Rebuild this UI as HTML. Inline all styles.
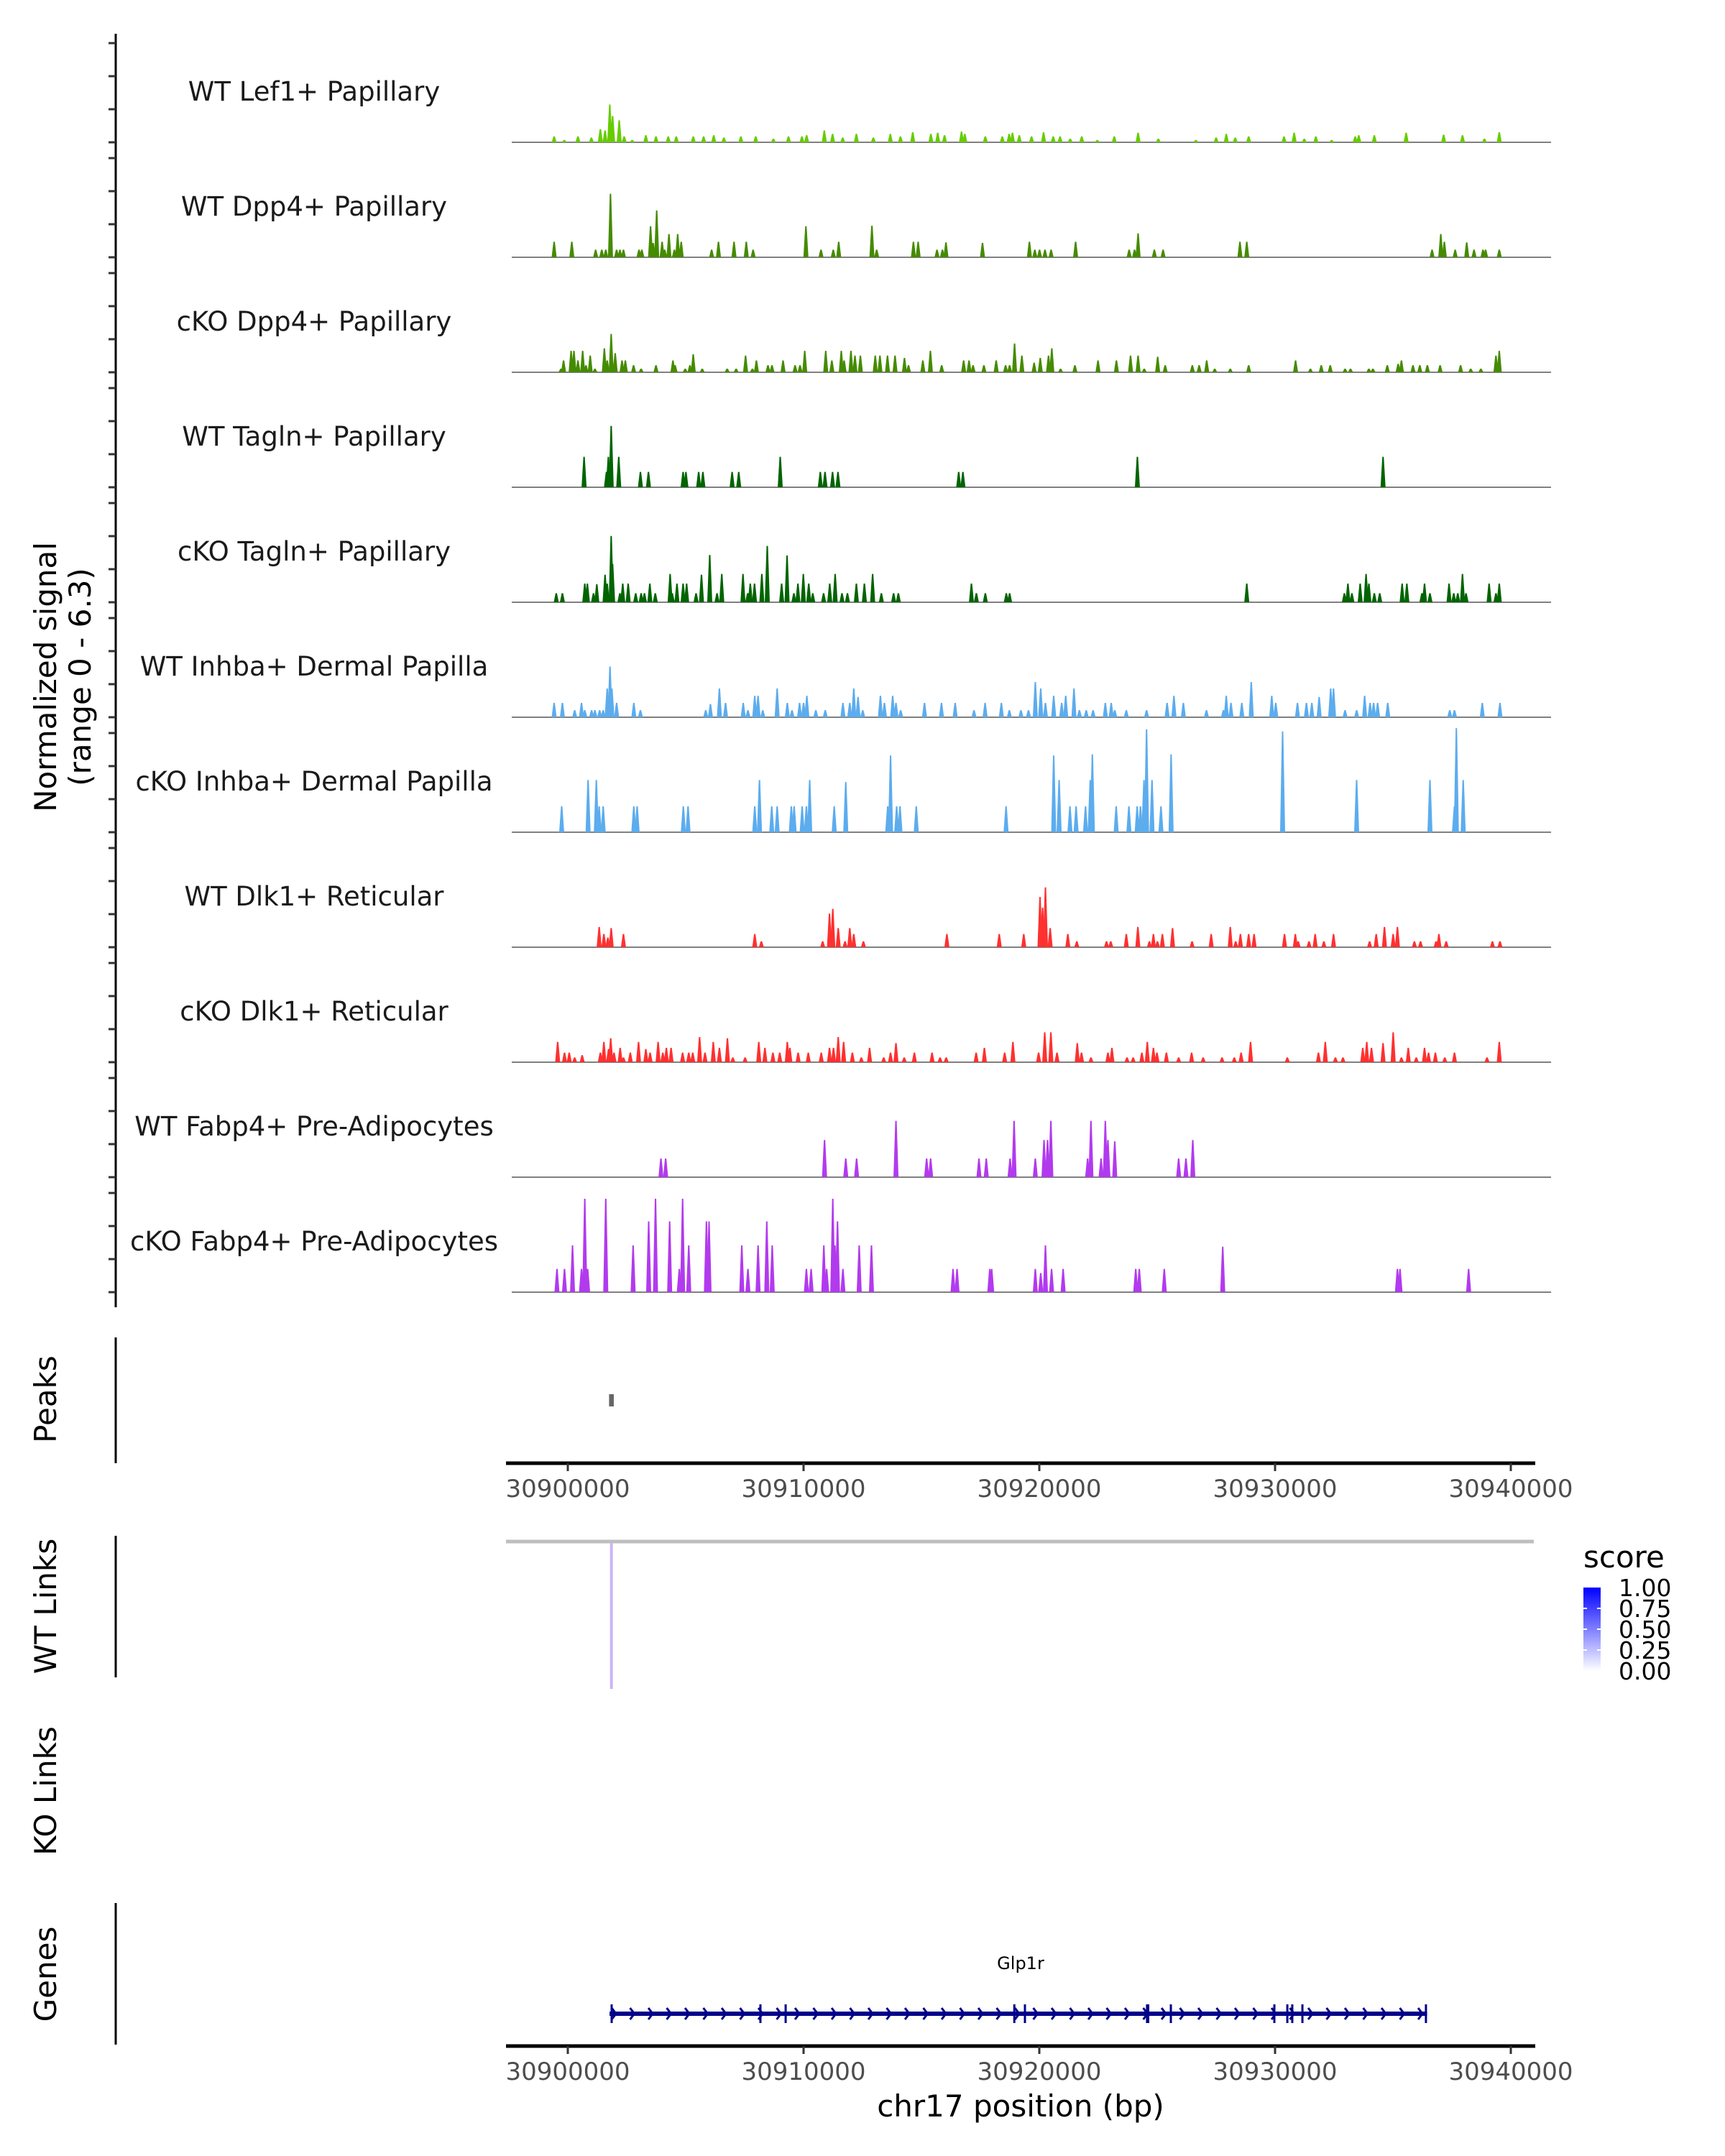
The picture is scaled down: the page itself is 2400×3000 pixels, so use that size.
<!DOCTYPE html>
<html><head><meta charset="utf-8"><style>
html,body{margin:0;padding:0;background:#fff;}
svg{display:block;font-family:"DejaVu Sans","Liberation Sans",sans-serif;}
</style></head><body>
<svg id="chart" width="2400" height="3000" viewBox="0 0 2400 3000" xmlns="http://www.w3.org/2000/svg">
<rect width="2400" height="3000" fill="#fff"/>
<g id="tracks"></g>
<line x1="161" y1="47" x2="161" y2="1819" stroke="#000" stroke-width="3"/>
<g id="yticks"></g>
<text transform="translate(78,942) rotate(-90)" text-anchor="middle" font-size="42" fill="#000">Normalized signal</text>
<text transform="translate(126,942) rotate(-90)" text-anchor="middle" font-size="42" fill="#000">(range 0 - 6.3)</text>

<line x1="161" y1="1861" x2="161" y2="2036" stroke="#000" stroke-width="3"/>
<text transform="translate(78,1947) rotate(-90)" text-anchor="middle" font-size="42" fill="#000">Peaks</text>
<g id="peaks"></g>
<g id="axis1"></g>

<line x1="161" y1="2137" x2="161" y2="2334" stroke="#000" stroke-width="3"/>
<text transform="translate(78,2235) rotate(-90)" text-anchor="middle" font-size="42" fill="#000">WT Links</text>
<line x1="704" y1="2145" x2="2134" y2="2145" stroke="#bebebe" stroke-width="5"/>
<g id="links"></g>
<text transform="translate(78,2492) rotate(-90)" text-anchor="middle" font-size="42" fill="#000">KO Links</text>

<g>
<defs><linearGradient id="sg" x1="0" y1="1" x2="0" y2="0"><stop offset="0" stop-color="#ffffff"/><stop offset="1" stop-color="#0000ff"/></linearGradient></defs>
<text x="2203" y="2181" font-size="42" fill="#000">score</text>
<rect x="2203" y="2209" width="24" height="116" fill="url(#sg)"/>
<g stroke="#fff" stroke-width="2"><line x1="2203" y1="2238" x2="2208" y2="2238"/><line x1="2222" y1="2238" x2="2227" y2="2238"/><line x1="2203" y1="2267" x2="2208" y2="2267"/><line x1="2222" y1="2267" x2="2227" y2="2267"/><line x1="2203" y1="2296" x2="2208" y2="2296"/><line x1="2222" y1="2296" x2="2227" y2="2296"/></g>
<g font-size="33" fill="#000">
<text x="2252" y="2221">1.00</text>
<text x="2252" y="2250">0.75</text>
<text x="2252" y="2279">0.50</text>
<text x="2252" y="2308">0.25</text>
<text x="2252" y="2337">0.00</text>
</g></g>

<line x1="161" y1="2648" x2="161" y2="2845" stroke="#000" stroke-width="3"/>
<text transform="translate(78,2747) rotate(-90)" text-anchor="middle" font-size="42" fill="#000">Genes</text>
<g id="genes"></g>
<g id="axis2"></g>
<text x="1420" y="2945" text-anchor="middle" font-size="42" fill="#000">chr17 position (bp)</text>
</svg>
<script>
// positions in kb relative to 30900000, values in normalized signal
const trackNames = ["WT Lef1+ Papillary","WT Dpp4+ Papillary","cKO Dpp4+ Papillary","WT Tagln+ Papillary","cKO Tagln+ Papillary","WT Inhba+ Dermal Papilla","cKO Inhba+ Dermal Papilla","WT Dlk1+ Reticular","cKO Dlk1+ Reticular","WT Fabp4+ Pre-Adipocytes","cKO Fabp4+ Pre-Adipocytes"];
const trackColors = ["#66cc00","#458b00","#458b00","#006400","#006400","#5cacee","#5cacee","#ff3030","#ff3030","#b23aee","#b23aee"];
const wtLef1 = [[-0.58,0.36],[-0.15,0.14],[0.43,0.36],[1.0,0.29],[1.38,0.8],[1.58,0.72],[1.78,2.29],[1.9,1.59],[2.18,1.33],[2.39,0.36],[2.73,0.14],[3.31,0.43],[3.74,0.36],[4.26,0.36],[4.6,0.36],[5.32,0.36],[5.76,0.36],[6.19,0.43],[6.62,0.29],[7.34,0.36],[7.97,0.36],[8.72,0.22],[9.36,0.36],[9.93,0.36],[10.13,0.43],[10.88,0.72],[11.23,0.51],[11.66,0.29],[12.24,0.51],[12.96,0.29],[13.68,0.51],[14.11,0.36],[14.63,0.61],[15.4,0.51],[15.69,0.58],[15.98,0.43],[16.7,0.65],[16.84,0.51],[17.71,0.36],[18.43,0.36],[18.72,0.51],[18.86,0.58],[19.15,0.43],[19.67,0.36],[20.18,0.61],[20.59,0.36],[20.88,0.36],[21.31,0.22],[21.8,0.36],[22.46,0.14],[23.18,0.36],[24.19,0.58],[25.05,0.22],[26.64,0.14],[27.5,0.29],[27.93,0.51],[28.31,0.29],[28.88,0.36],[30.38,0.36],[30.81,0.58],[31.24,0.22],[31.73,0.36],[32.4,0.14],[33.4,0.36],[33.55,0.43],[34.21,0.43],[35.56,0.58],[37.15,0.46],[37.95,0.43],[38.88,0.22],[39.51,0.61]];
const wtDpp4 = [[-0.58,0.94],[0.17,0.94],[1.18,0.46],[1.44,0.46],[1.61,0.46],[1.81,3.84],[2.07,0.46],[2.21,0.46],[2.36,0.46],[3.02,0.46],[3.14,0.46],[3.51,1.88],[3.62,0.87],[3.77,2.83],[4.0,0.94],[4.11,0.46],[4.29,1.41],[4.52,0.46],[4.66,1.41],[4.81,0.94],[6.1,0.46],[6.39,0.94],[7.05,0.94],[7.57,0.94],[7.86,0.46],[10.1,1.88],[10.74,0.46],[11.26,0.46],[11.49,0.94],[12.9,1.91],[13.1,0.46],[14.66,0.94],[14.86,0.94],[15.66,0.46],[15.89,0.46],[16.04,0.9],[17.59,0.87],[19.58,0.94],[19.81,0.46],[20.01,0.46],[20.24,0.46],[20.5,0.46],[21.54,0.94],[23.81,0.46],[24.04,0.46],[24.19,1.45],[24.88,0.46],[25.25,0.46],[28.51,0.94],[28.8,0.94],[36.66,0.46],[37.03,1.41],[37.18,0.94],[37.64,0.46],[38.13,0.9],[38.44,0.46],[38.82,0.46],[38.93,0.46],[39.51,0.46]];
const koDpp4 = [[-0.29,0.22],[-0.18,0.72],[0.14,1.3],[0.26,1.3],[0.43,0.72],[0.63,1.3],[0.77,0.43],[0.95,1.01],[1.15,0.22],[1.55,1.45],[1.67,0.72],[1.84,2.32],[2.01,1.16],[2.3,0.72],[2.44,0.72],[2.79,0.43],[3.11,0.22],[3.74,0.43],[4.46,0.72],[4.55,0.43],[4.98,0.22],[5.18,0.43],[5.32,1.09],[5.7,0.22],[6.76,0.22],[7.14,0.22],[7.54,1.01],[7.83,0.22],[8.0,0.72],[8.49,0.43],[8.66,0.43],[9.13,0.72],[9.64,0.43],[9.85,0.43],[10.05,1.3],[10.94,1.3],[11.2,0.72],[11.6,1.3],[11.72,0.72],[12.01,1.3],[12.18,1.01],[12.41,1.01],[13.04,1.01],[13.24,1.01],[13.56,1.01],[13.88,1.01],[14.28,0.87],[14.45,0.43],[15.06,0.72],[15.38,1.3],[15.86,0.43],[16.79,0.72],[17.02,0.72],[17.19,0.43],[17.65,0.43],[18.17,0.72],[18.57,0.43],[18.74,0.43],[18.95,1.74],[19.26,1.01],[19.78,0.58],[20.04,0.87],[20.39,1.01],[20.53,1.45],[20.9,0.22],[21.51,0.43],[22.49,0.72],[23.27,0.72],[23.87,1.01],[24.19,1.01],[24.45,0.22],[25.02,0.94],[25.34,0.43],[26.49,0.43],[26.78,0.43],[27.1,0.72],[27.44,0.22],[28.1,0.22],[28.88,0.43],[30.87,0.72],[31.5,0.22],[31.96,0.43],[32.34,0.43],[32.97,0.22],[33.2,0.22],[33.98,0.22],[34.15,0.22],[34.76,0.43],[35.22,0.51],[35.36,0.72],[35.85,0.43],[36.14,0.43],[36.46,0.43],[37.0,0.43],[37.87,0.43],[38.3,0.22],[38.73,0.22],[39.37,1.01],[39.51,1.3]];
const wtTagln = [[0.69,1.84],[1.64,0.93],[1.72,1.84],[1.84,3.71],[2.16,1.84],[3.08,0.93],[3.42,0.93],[4.89,0.93],[5.01,0.93],[5.55,0.93],[5.73,0.93],[6.97,0.93],[7.25,0.93],[9.01,1.84],[10.71,0.93],[10.91,0.93],[11.23,0.93],[11.46,0.93],[16.58,0.93],[16.76,0.93],[24.16,1.84],[34.58,1.84]];
const koTagln = [[-0.49,0.55],[-0.23,0.55],[0.72,1.13],[0.83,1.13],[1.09,0.55],[1.23,1.09],[1.58,1.67],[1.67,1.13],[1.84,4.01],[1.9,2.32],[2.21,0.55],[2.33,1.13],[2.56,1.13],[2.88,0.55],[3.11,0.55],[3.25,0.55],[3.48,1.13],[3.71,0.55],[4.34,1.71],[4.43,0.55],[4.63,1.13],[4.89,1.13],[5.04,1.13],[5.44,0.55],[5.67,1.67],[6.02,2.86],[6.33,0.55],[6.53,1.71],[7.43,1.71],[7.63,0.55],[7.74,1.13],[7.92,1.13],[8.23,1.71],[8.46,3.41],[9.07,1.13],[9.3,2.83],[9.59,0.55],[9.76,1.13],[9.99,1.71],[10.22,1.13],[10.39,0.55],[10.85,0.55],[11.11,1.13],[11.34,1.71],[11.63,0.55],[11.86,0.55],[12.24,1.13],[12.58,1.13],[12.93,1.71],[13.3,0.55],[13.82,0.55],[14.02,0.55],[17.12,1.13],[17.33,0.55],[17.71,0.55],[18.6,0.55],[18.74,0.55],[28.8,1.13],[32.94,0.55],[33.09,1.13],[33.26,0.55],[33.61,1.13],[33.86,1.71],[33.98,1.13],[34.21,0.55],[34.44,0.55],[35.39,1.13],[35.59,1.13],[36.23,0.55],[36.34,1.13],[36.57,0.55],[37.38,1.13],[37.58,0.55],[37.75,0.55],[37.95,1.71],[38.1,0.55],[39.08,1.13],[39.37,0.55],[39.51,1.13]];
const wtInhba = [[-0.58,0.87],[-0.23,0.87],[0.29,0.43],[0.58,0.87],[0.72,0.43],[1.01,0.43],[1.15,0.43],[1.35,0.43],[1.5,0.43],[1.67,1.74],[1.79,3.07],[1.87,1.74],[2.07,0.87],[2.8,0.87],[3.08,0.43],[5.85,0.43],[6.05,0.8],[6.43,1.74],[6.69,0.87],[7.44,0.87],[7.64,0.43],[7.93,1.3],[8.07,1.3],[8.27,0.43],[8.88,1.74],[9.31,0.87],[9.51,0.43],[9.83,0.87],[10.0,0.87],[10.14,1.3],[10.52,0.43],[10.92,0.43],[11.67,0.87],[11.96,0.87],[12.13,1.74],[12.31,1.23],[12.51,0.43],[13.26,1.3],[13.43,0.87],[13.78,1.3],[13.92,0.87],[14.12,0.43],[15.13,0.87],[15.85,0.87],[16.43,0.87],[17.23,0.43],[17.7,0.87],[18.39,0.87],[18.73,0.43],[19.22,0.43],[19.54,0.43],[19.83,2.13],[20.06,1.74],[20.26,0.87],[20.61,1.3],[20.95,0.87],[21.12,1.3],[21.47,1.74],[21.7,0.43],[21.99,0.43],[22.28,0.43],[22.8,0.87],[23.05,0.87],[23.2,0.43],[23.69,0.43],[24.55,0.43],[25.42,0.87],[25.71,1.3],[26.11,0.87],[27.09,0.43],[27.81,0.43],[27.93,1.3],[28.13,0.87],[28.59,0.87],[28.99,2.13],[29.86,1.3],[30.03,0.87],[30.95,0.87],[31.33,0.87],[31.56,0.87],[31.87,1.23],[32.36,1.74],[32.48,1.74],[32.97,0.43],[33.46,0.43],[33.8,1.3],[34.03,0.87],[34.18,0.87],[34.35,0.87],[34.78,0.87],[37.41,0.43],[37.61,0.43],[38.79,0.87],[39.54,0.87]];
const koInhba = [[-0.26,1.57],[0.86,3.16],[1.21,3.16],[1.33,1.57],[1.5,1.57],[2.8,1.57],[2.94,1.57],[4.9,1.57],[5.1,1.57],[7.93,1.57],[8.13,3.16],[8.65,1.57],[8.88,1.57],[9.48,1.57],[9.6,1.57],[9.94,1.57],[10.12,1.57],[10.26,3.16],[11.3,1.57],[11.79,3.04],[13.57,1.57],[13.69,4.64],[13.95,1.57],[14.09,1.57],[14.78,1.57],[18.59,1.57],[20.61,4.64],[20.84,3.16],[21.3,1.57],[21.56,1.57],[21.96,1.57],[22.16,3.16],[22.25,4.71],[23.26,1.57],[23.8,1.57],[24.15,1.57],[24.29,1.57],[24.44,3.16],[24.55,6.23],[24.78,3.16],[25.16,1.57],[25.59,4.71],[30.32,6.09],[33.46,3.16],[36.57,3.16],[37.61,1.57],[37.69,6.3],[37.98,3.16]];
const wtDlk1 = [[1.33,1.23],[1.53,0.8],[1.7,0.58],[1.84,1.16],[2.36,0.8],[7.93,0.8],[8.21,0.36],[10.81,0.36],[11.1,2.03],[11.24,2.32],[11.47,1.16],[11.76,0.36],[11.96,1.16],[12.13,0.8],[12.54,0.36],[16.08,0.8],[18.3,0.8],[19.34,0.8],[20.03,3.04],[20.14,2.39],[20.26,3.62],[20.46,1.16],[21.21,0.8],[21.59,0.36],[22.85,0.36],[23.03,0.36],[23.69,0.8],[24.18,1.23],[24.67,0.36],[24.84,0.8],[25.01,0.36],[25.22,0.8],[25.65,1.16],[26.48,0.36],[27.29,0.8],[28.1,1.23],[28.33,0.36],[28.53,0.8],[28.88,0.8],[29.11,0.8],[30.4,0.8],[30.86,0.8],[30.98,0.36],[31.44,0.36],[31.7,0.8],[32.07,0.36],[32.48,0.8],[34.01,0.36],[34.29,0.8],[34.64,1.23],[35.01,0.8],[35.19,1.23],[35.91,0.36],[36.17,0.36],[36.83,0.36],[36.95,0.8],[37.26,0.36],[39.22,0.36],[39.54,0.36]];
const koDlk1 = [[-0.43,1.23],[-0.14,0.58],[0.06,0.58],[0.29,0.29],[0.61,0.43],[1.38,0.58],[1.53,1.23],[1.73,0.8],[1.82,1.45],[1.96,0.58],[2.22,0.87],[2.36,0.29],[2.65,0.58],[3.0,1.23],[3.31,0.8],[3.49,0.58],[3.83,1.23],[4.03,0.58],[4.18,0.87],[4.38,0.87],[4.87,0.58],[5.13,0.58],[5.3,0.58],[5.59,1.52],[5.82,0.58],[6.17,1.23],[6.43,0.87],[6.77,1.45],[7.0,0.29],[7.52,0.29],[8.1,1.23],[8.36,0.87],[8.7,0.58],[8.99,0.58],[9.31,1.23],[9.42,0.87],[9.77,0.58],[10.2,0.58],[10.75,0.58],[11.1,0.87],[11.27,0.87],[11.47,1.52],[11.7,1.23],[12.07,0.58],[12.45,0.29],[12.8,0.87],[13.4,0.29],[13.69,0.58],[13.92,1.16],[14.27,0.29],[14.7,0.58],[15.45,0.58],[15.79,0.29],[16.05,0.29],[17.32,0.58],[17.67,0.87],[18.53,0.58],[18.88,1.23],[19.97,0.58],[20.23,1.81],[20.49,1.81],[20.75,0.58],[21.61,1.16],[21.79,0.58],[22.19,0.29],[22.91,0.58],[23.08,0.87],[23.72,0.29],[23.98,0.29],[24.35,0.58],[24.58,1.23],[24.84,0.87],[24.99,0.58],[25.39,0.58],[25.91,0.29],[26.46,0.58],[26.95,0.29],[27.75,0.29],[28.27,0.29],[28.56,0.58],[28.96,1.23],[30.52,0.29],[31.84,0.58],[32.13,1.23],[32.56,0.29],[32.88,0.29],[33.72,0.87],[33.89,1.23],[34.09,0.87],[34.58,1.16],[35.01,1.81],[35.36,0.29],[35.65,0.87],[35.99,0.29],[36.34,0.87],[36.51,0.58],[36.8,0.58],[37.2,0.29],[37.61,0.58],[38.99,0.29],[39.51,1.23]];
const wtFabp4 = [[3.95,1.13],[4.15,1.13],[10.89,2.25],[11.79,1.13],[12.25,1.13],[13.92,3.41],[15.22,1.13],[15.39,1.13],[17.44,1.13],[17.75,1.13],[18.76,1.13],[18.93,3.41],[19.83,1.13],[20.2,2.25],[20.35,2.25],[20.49,3.41],[22.05,1.13],[22.19,3.41],[22.62,1.13],[22.8,3.41],[22.91,2.25],[23.2,2.17],[25.91,1.13],[26.22,1.13],[26.51,2.25]];
const koFabp4 = [[-0.46,1.41],[-0.14,1.41],[0.2,2.83],[0.58,1.41],[0.72,5.65],[0.84,1.41],[1.61,5.65],[2.77,2.83],[3.43,4.28],[3.72,5.65],[4.32,4.28],[4.73,1.41],[4.87,5.65],[5.13,2.83],[5.88,4.28],[5.99,4.28],[7.38,2.83],[7.64,1.41],[8.07,2.83],[8.44,4.28],[8.67,2.83],[10.12,1.41],[10.32,1.41],[10.86,2.83],[10.98,1.41],[11.24,5.65],[11.33,2.83],[11.44,4.28],[11.67,1.41],[12.36,2.83],[12.88,2.83],[16.34,1.41],[16.51,1.41],[17.9,1.41],[17.98,1.41],[19.83,1.41],[20.06,1.16],[20.26,2.83],[20.52,1.41],[21.01,1.41],[24.09,1.41],[24.24,1.41],[25.3,1.41],[27.78,2.75],[35.19,1.41],[35.3,1.41],[38.21,1.41]];
const trackData = [wtLef1,wtDpp4,koDpp4,wtTagln,koTagln,wtInhba,koInhba,wtDlk1,koDlk1,wtFabp4,koFabp4];
const yTicks = [0,2,4,6];
const peakRegions = [[1.75,1.95]];
const linkEnds = [[1.8,1.9,0.2]];
const geneSpan = [1.77,36.45];
const geneExons = [1.86,8.17,9.24,18.94,19.39,24.57,24.62,25.58,29.97,30.52,30.73,31.16,36.4];
const xTickKb = [0,10,20,30,40];
const xTickLabels = ["30900000","30910000","30920000","30930000","30940000"];

const NS="http://www.w3.org/2000/svg";
function mk(tag, attrs, parent){const e=document.createElementNS(NS,tag);for(const k in attrs)e.setAttribute(k,attrs[k]);parent.appendChild(e);return e;}
const xScale = kb => 790 + kb*32.8;
const baseY = i => 198 + i*160;
const yScale = (i,v) => baseY(i) - v*23;

const tracksG=document.getElementById('tracks');
const tickG=document.getElementById('yticks');
trackData.forEach((arr,i)=>{
  const g=mk('g',{},tracksG);
  
  
  const lab=mk('text',{x:437,y:baseY(i)-58,'text-anchor':'middle','font-size':37,fill:'#1a1a1a'},g);
  lab.textContent=trackNames[i];
  
  
  const bl=mk('line',{x1:712,x2:2158,y1:baseY(i),y2:baseY(i),stroke:'#808080','stroke-width':2},g);
  
  
  arr.forEach(d=>{
    const x=xScale(d[0]),y=yScale(i,d[1]),b=baseY(i);
    const p=mk('polygon',{points:`${x-3.5},${b} ${x-1},${y} ${x+1},${y} ${x+3.5},${b}`,fill:trackColors[i]},g);
    
    
  });
  yTicks.forEach(v=>{
    const t=mk('line',{x1:151,x2:161,y1:yScale(i,v),y2:yScale(i,v),stroke:'#333','stroke-width':3},tickG);
    
    
  });
});

const pk=document.getElementById('peaks');
peakRegions.forEach(r=>{
  const e=mk('rect',{x:xScale(r[0]),y:1940,width:Math.max(5,xScale(r[1])-xScale(r[0])),height:17,fill:'#666'},pk);
  
  
});
const lk=document.getElementById('links');
linkEnds.forEach(l=>{
  const x=(xScale(l[0])+xScale(l[1]))/2;
  const e=mk('line',{x1:x,x2:x,y1:2147,y2:2350,stroke:'#cbb4f7','stroke-width':4},lk);
  
  
});

function drawAxis(id,y){
  const g=document.getElementById(id);
  const ax=mk('line',{x1:704,x2:2136,y1:y,y2:y,stroke:'#000','stroke-width':5},g);
  
  
  xTickKb.forEach((k,j)=>{
    const x=xScale(k);
    const t=mk('line',{x1:x,x2:x,y1:y,y2:y+11,stroke:'#333','stroke-width':3},g);
    
    
    const tx=mk('text',{x:x,y:y+47,'text-anchor':'middle','font-size':34,fill:'#4d4d4d'},g);
    tx.textContent=xTickLabels[j];
    
    
  });
}
drawAxis('axis1',2036);
drawAxis('axis2',2847);

const gg=document.getElementById('genes');
const gl=mk('text',{x:1420,y:2740,'text-anchor':'middle','font-size':24,fill:'#000'},gg);
gl.textContent='Glp1r';


const x0=xScale(geneSpan[0]),x1=xScale(geneSpan[1]);
const gline=mk('line',{x1:x0,x2:x1,y1:2802,y2:2802,stroke:'#00008b','stroke-width':6},gg);


for(let x=x0+6;x<x1-6;x+=25.5){
  const c=mk('polyline',{points:`${x-3},${2794} ${x+3},${2802} ${x-3},${2810}`,fill:'none',stroke:'#00008b','stroke-width':3},gg);
  
  
}
geneExons.forEach(k=>{
  const x=xScale(k);
  const e=mk('rect',{x:x-1.5,y:2789,width:3,height:26,fill:'#00008b'},gg);
  
  
});
</script>
</body></html>
